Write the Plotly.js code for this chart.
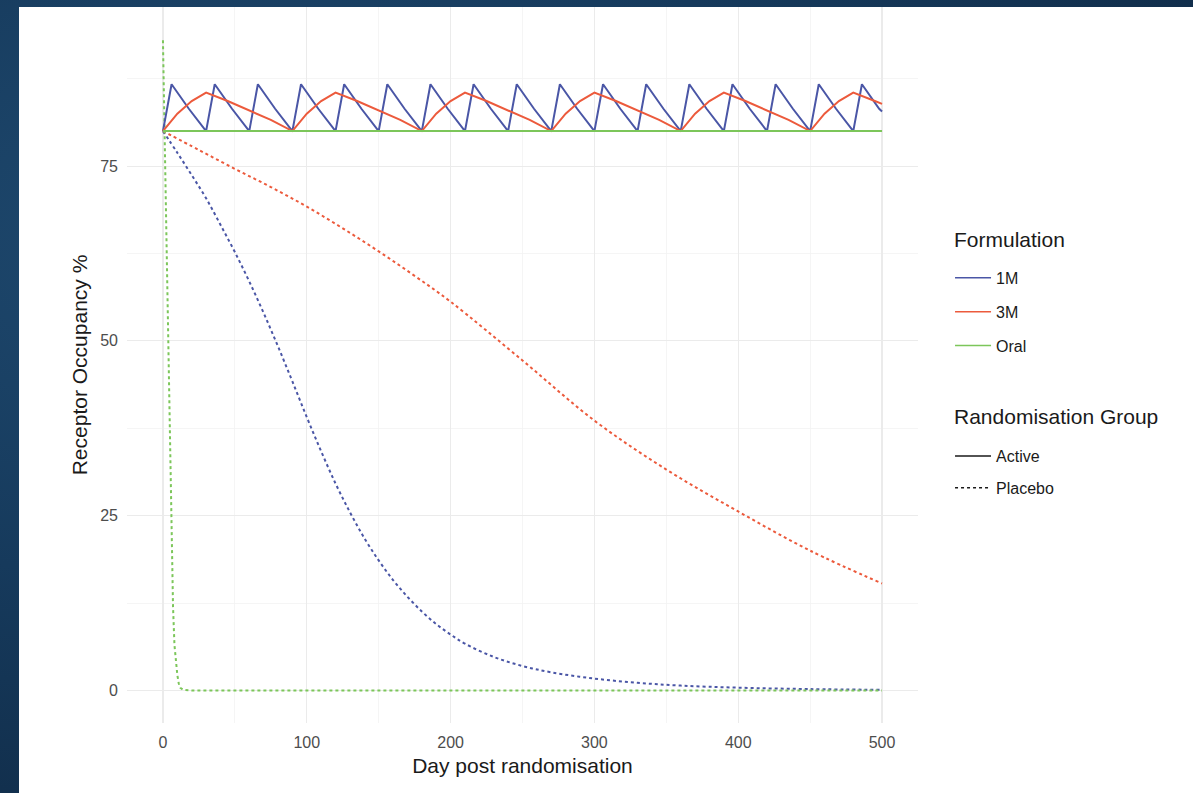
<!DOCTYPE html>
<html>
<head>
<meta charset="utf-8">
<script src="https://cdn.plot.ly/plotly-3.0.1.min.js"></script>
<style>
  html, body { margin: 0; padding: 0; width: 1193px; height: 793px; overflow: hidden;
    background: radial-gradient(ellipse at 20% 30%, #1f4a70 0%, #163a5c 45%, #0e2640 100%); }
  #chart { position: absolute; left: 19px; top: 7px; width: 1174px; height: 786px; background: #ffffff; }
</style>
</head>
<body>
<div id="chart"></div>
<script>
// ---- Data ----
// 1M active (monthly injection, sawtooth)
const oneM_active_day = [0,6,18,30,36,48,60,66,78,90,96,108,120,126,138,150,156,168,180,186,198,210,216,228,240,246,258,270,276,288,300,306,318,330,336,348,360,366,378,390,396,408,420,426,438,450,456,468,480,486,498,500];
const oneM_active_ro  = [80,86.7,83.2,80,86.7,83.2,80,86.7,83.2,80,86.7,83.2,80,86.7,83.2,80,86.7,83.2,80,86.7,83.2,80,86.7,83.2,80,86.7,83.2,80,86.7,83.2,80,86.7,83.2,80,86.7,83.2,80,86.7,83.2,80,86.7,83.2,80,86.7,83.2,80,86.7,83.2,80,86.7,83.2,82.8];

// 3M active (3-monthly injection)
const threeM_active_day = [0,5,10,20,30,45,60,75,90,95,100,110,120,135,150,165,180,185,190,200,210,225,240,255,270,275,280,290,300,315,330,345,360,365,370,380,390,405,420,435,450,455,460,470,480,495,500];
const threeM_active_ro  = [80,81.3,82.5,84.3,85.5,84.3,83.0,81.6,80,81.3,82.5,84.3,85.5,84.3,83.0,81.6,80,81.3,82.5,84.3,85.5,84.3,83.0,81.6,80,81.3,82.5,84.3,85.5,84.3,83.0,81.6,80,81.3,82.5,84.3,85.5,84.3,83.0,81.6,80,81.3,82.5,84.3,85.5,84.3,83.9];

// Oral active
const oral_active_day = [0,500];
const oral_active_ro  = [80,80];

// 1M placebo
const oneM_placebo_day = [0,10,20,30,40,50,60,70,80,90,100,110,120,130,140,150,160,170,180,190,200,210,230,250,270,300,330,360,400,450,500];
const oneM_placebo_ro  = [80,76.9,73.7,70.4,66.6,62.7,58.5,54.0,49.2,44.2,39.1,34.2,29.6,25.5,21.8,18.6,15.8,13.4,11.3,9.5,8.0,6.7,4.8,3.5,2.6,1.7,1.1,0.7,0.4,0.2,0.1];

// 3M placebo
const threeM_placebo_day = [0,25,50,75,100,125,150,175,200,250,300,350,400,450,500];
const threeM_placebo_ro  = [80,77.3,74.6,72.0,69.2,66.1,62.8,59.3,55.6,47.2,38.6,31.6,25.6,20.0,15.3];

// Oral placebo
const oral_placebo_day = [0,1,2,3,4,5,6,7,8,9,10,11,12,14,20,100,200,300,400,500];
const oral_placebo_ro  = [93,82,71,60,48,35,22,12,6.5,4,2.2,1,0.4,0.1,0,0,0,0,0,0];

// Labels
const formulations = ["1M","3M","Oral"];
const groups = ["Active","Placebo"];
const xTicks = [0,100,200,300,400,500];
const yTicks = [0,25,50,75];

const colors = {"1M":"#4a56a6","3M":"#ec5a3c","Oral":"#7cc65a"};
const DOT = "3px,3px";
const LW = 2;

const traces = [];
function addLine(x, y, col, dash, shape) {
  traces.push({x: x, y: y, type: "scatter", mode: "lines", showlegend: false, hoverinfo: "skip",
    line: {color: col, width: LW, dash: dash, shape: shape || "linear", smoothing: 1}});
}
addLine(oneM_placebo_day, oneM_placebo_ro, colors["1M"], DOT, "spline");
addLine(threeM_placebo_day, threeM_placebo_ro, colors["3M"], DOT, "spline");
addLine(oral_placebo_day, oral_placebo_ro, colors["Oral"], DOT, "linear");
addLine(oneM_active_day, oneM_active_ro, colors["1M"], "solid");
addLine(threeM_active_day, threeM_active_ro, colors["3M"], "solid");
addLine(oral_active_day, oral_active_ro, colors["Oral"], "solid");

// legend entries
formulations.forEach(f => {
  traces.push({x: [null], y: [null], type: "scatter", mode: "lines", name: f, legend: "legend",
    legendgroup: f, line: {color: colors[f], width: 1.5}});
});
groups.forEach((g, i) => {
  traces.push({x: [null], y: [null], type: "scatter", mode: "lines", name: g, legend: "legend2",
    legendgroup: g, line: {color: "#1a1a1a", width: 1.5, dash: i === 0 ? "solid" : DOT}});
});

const FONT = "Liberation Sans, Arial, sans-serif";
const legendTitles = ["Formulation", "Randomisation Group"];
const layout = {
  width: 1174, height: 786,
  margin: {l: 108, r: 275, t: 0, b: 70},
  paper_bgcolor: "#ffffff", plot_bgcolor: "#ffffff",
  font: {family: FONT, color: "#1a1a1a"},
  xaxis: {
    range: [-25, 525], tickvals: xTicks, ticktext: xTicks.map(String),
    showgrid: true, gridcolor: "#ebebeb", gridwidth: 1.1,
    minor: {tickvals: [50,150,250,350,450], showgrid: true, gridcolor: "#f3f3f3", gridwidth: 0.8},
    zeroline: false, showline: false, ticks: "",
    tickfont: {size: 16, color: "#4d4d4d", family: FONT}, ticklabelstandoff: 8,
    title: {text: "Day post randomisation", font: {size: 21, color: "#1a1a1a", family: FONT}, standoff: 8}
  },
  yaxis: {
    range: [-4.65, 97.75], tickvals: yTicks, ticktext: yTicks.map(String),
    showgrid: true, gridcolor: "#ebebeb", gridwidth: 1.1,
    minor: {tickvals: [12.5,37.5,62.5,87.5], showgrid: true, gridcolor: "#f3f3f3", gridwidth: 0.8},
    zeroline: false, showline: false, ticks: "",
    tickfont: {size: 16, color: "#4d4d4d", family: FONT}, ticklabelstandoff: 8,
    title: {text: "Receptor Occupancy %", font: {size: 21, color: "#1a1a1a", family: FONT}, standoff: 6}
  },
  legend: {
    x: 1.0405, y: 0.6453, xanchor: "left", yanchor: "top", itemwidth: 36,
    font: {size: 16, color: "#1a1a1a", family: FONT},
    traceorder: "grouped", tracegroupgap: 10, bgcolor: "rgba(0,0,0,0)", borderwidth: 0
  },
  legend2: {
    x: 1.0405, y: 0.3966, xanchor: "left", yanchor: "top", itemwidth: 36,
    font: {size: 16, color: "#1a1a1a", family: FONT},
    traceorder: "grouped", tracegroupgap: 8, bgcolor: "rgba(0,0,0,0)", borderwidth: 0
  },
  annotations: [
    {text: legendTitles[0], xref: "paper", yref: "paper", x: 1.043, y: 0.6746, xanchor: "left", yanchor: "middle",
     showarrow: false, font: {size: 21, color: "#1a1a1a", family: FONT}},
    {text: legendTitles[1], xref: "paper", yref: "paper", x: 1.043, y: 0.4274, xanchor: "left", yanchor: "middle",
     showarrow: false, font: {size: 21, color: "#1a1a1a", family: FONT}}
  ]
};

Plotly.newPlot("chart", traces, layout, {displayModeBar: false, staticPlot: true});
</script>
</body>
</html>
